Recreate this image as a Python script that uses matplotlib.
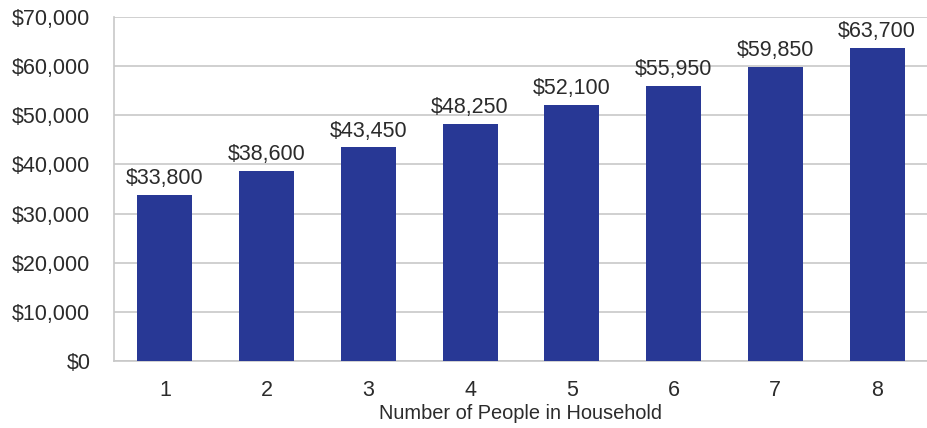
import matplotlib.pyplot as plt
from matplotlib.ticker import FuncFormatter

# household size vs income limit
household_size = [1, 2, 3, 4, 5, 6, 7, 8]
income = [33800, 38600, 43450, 48250, 52100, 55950, 59850, 63700]

plt.rcParams["font.family"] = ["Liberation Sans", "DejaVu Sans"]
text_color = "#2b2b2b"
bar_color = "#283895"

fig = plt.figure(figsize=(9.28, 4.28), dpi=100)
ax = fig.add_axes([0.1228, 0.1565, 0.8772, 0.8038])

ax.bar(household_size, income, width=0.54, color=bar_color, zorder=3)

for x, v in zip(household_size, income):
    ax.text(x, v + 1200, f"${v:,}", ha="center", va="bottom",
            fontsize=15.5, color=text_color, zorder=4)

ax.set_xlim(0.5, 8.5)
ax.set_ylim(0, 70000)
ax.set_yticks(range(0, 70001, 10000))
ax.yaxis.set_major_formatter(FuncFormatter(lambda v, p: f"${v:,.0f}"))
ax.set_xticks(household_size)

ax.grid(axis="y", color="#c8c8c8", linewidth=1.2, zorder=0)
for s in ["top", "right"]:
    ax.spines[s].set_visible(False)
ax.spines["left"].set_color("#c8c8c8")
ax.spines["bottom"].set_color("#c8c8c8")
ax.spines["left"].set_linewidth(1.2)
ax.spines["bottom"].set_linewidth(1.2)

ax.tick_params(axis="both", length=0, labelsize=15.5, colors=text_color)
ax.tick_params(axis="y", pad=17)
ax.tick_params(axis="x", pad=14)
ax.set_xlabel("Number of People in Household", fontsize=14.4,
              color=text_color, labelpad=2,
              family=["Liberation Sans Narrow", "Liberation Sans", "DejaVu Sans"])

fig.savefig("out.png", dpi=100)
